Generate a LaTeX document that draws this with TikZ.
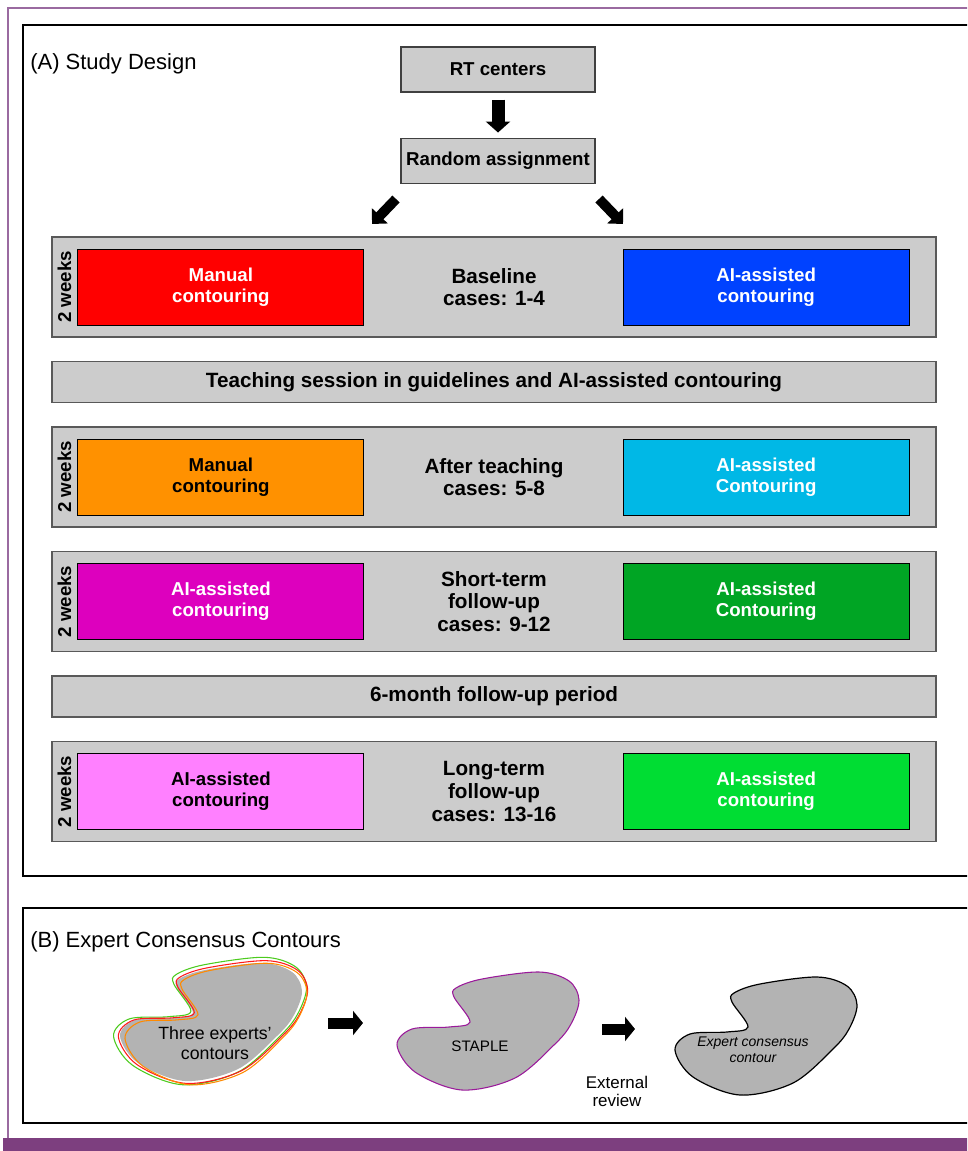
\documentclass[tikz,border=0pt]{standalone}
\usepackage{fontspec}
\setmainfont{Liberation Sans}
\usetikzlibrary{arrows.meta, positioning, calc}
\newlength{\pxu}
\setlength{\pxu}{0.75pt}
\definecolor{boxgray}{HTML}{CCCCCC}
\definecolor{blobgray}{HTML}{B3B3B3}
\definecolor{framepurple}{HTML}{9A6AA0}
\definecolor{barpurple}{HTML}{7D3F7F}
\definecolor{armred}{HTML}{FF0000}
\definecolor{armblue}{HTML}{0042FF}
\definecolor{armorange}{HTML}{FF9100}
\definecolor{armcyan}{HTML}{00B8E6}
\definecolor{armmagenta}{HTML}{DD00BE}
\definecolor{armdkgreen}{HTML}{00A524}
\definecolor{armpink}{HTML}{FF80FF}
\definecolor{armgreen}{HTML}{00DD33}
\definecolor{expred}{HTML}{FF1A1A}
\definecolor{exporange}{HTML}{FF8A00}
\definecolor{expgreen}{HTML}{4CCB1E}
\definecolor{staplepurple}{HTML}{9A1A9A}
\tikzset{
  panel/.style     = {draw=black, line width=1.5pt},
  paneltl/.style   = {font=\fontsize{16.5}{19}\selectfont, inner sep=0pt},
  topbox/.style    = {font=\bfseries\fontsize{14}{16}\selectfont, align=center,
                      draw=black!75, fill=boxgray, line width=0.8pt,
                      minimum width=194\pxu, minimum height=45\pxu, inner sep=2pt},
  phasebox/.style  = {font=\bfseries\fontsize{15.5}{17}\selectfont, align=center,
                      draw=black!65, fill=boxgray, line width=0.9pt,
                      minimum width=884\pxu, minimum height=100\pxu, inner sep=2pt},
  barbox/.style    = {phasebox, minimum height=41\pxu},
  armbox/.style    = {font=\bfseries\fontsize{14}{15.75}\selectfont, align=center,
                      draw=black, line width=0.7pt, text=white,
                      minimum width=286\pxu, minimum height=76\pxu, inner sep=2pt},
  weekslbl/.style  = {font=\bfseries\fontsize{14}{16}\selectfont, rotate=90,
                      inner sep=0pt},
  downarr/.style   = {draw=black, line width=9.75pt,
                      -{Triangle[length=8.25pt, width=18pt]}},
  diagarr/.style   = {draw=black, line width=7.5pt,
                      -{Triangle[length=8.5pt, width=16pt]}},
  sidearr/.style   = {draw=black, line width=8.25pt,
                      -{Triangle[length=7.5pt, width=18pt]}},
  blobtxt/.style   = {font=\fontsize{13.3}{15}\selectfont, align=center, inner sep=0pt},
  blob/.pic        = {\path[pic actions] plot[smooth cycle, tension=0.55] coordinates
                      {(-32,-43) (-6,-52) (51,-59) (81,-50) (91,-31) (83,-7) (67,13)
                       (27,47) (-26,59) (-73,41) (-91,14) (-76,-2) (-39,-4) (-18,-9)
                       (-34,-34)};},
}
\begin{document}
\begin{tikzpicture}[x=0.75pt, y=-0.75pt]
  \useasboundingbox (0,0) rectangle (967,1151);
  \clip (0,0) rectangle (967,1151);

  % page frame
  \draw[framepurple, line width=1.1pt] (8,1139) -- (8,8) -- (990,8);
  \fill[barpurple] (3,1138) rectangle (990,1160);
  \draw[panel] (23,25) rectangle (1000,876);
  \draw[panel] (23,908) rectangle (1000,1123);

  % (A) study design
  \node[paneltl, anchor=base west] (ttla) at (30,70) {(A) Study Design};
  \node[topbox] (rtc) at (498,69.5) {RT centers};
  \node[topbox, below=45\pxu of rtc] (rnd) {Random assignment};
  \draw[downarr, shorten <=5.25pt, shorten >=3.75pt] (rtc) -- (rnd);
  \coordinate (dl0) at (396,199);
  \coordinate (dl1) at (372,224);
  \coordinate (dr0) at (599,199);
  \coordinate (dr1) at (623,224);
  \draw[diagarr] (dl0) -- (dl1);
  \draw[diagarr] (dr0) -- (dr1);

  \node[phasebox] (ph1) at (494,287) {Baseline\\cases: 1-4};
  \node[armbox, fill=armred, right=26\pxu of ph1.west] (ph1l) {Manual\\contouring};
  \node[armbox, fill=armblue, left=27\pxu of ph1.east] (ph1r) {AI-assisted\\contouring};
  \node[weekslbl] at ($(ph1.west)+(13,0)$) {2 weeks};

  \node[barbox, below=23.3\pxu of ph1] (teach)
       {Teaching session in guidelines and AI-assisted contouring};

  \node[phasebox, below=23.3\pxu of teach] (ph2) {After teaching\\cases: 5-8};
  \node[armbox, fill=armorange, text=black, right=26\pxu of ph2.west] (ph2l) {Manual\\contouring};
  \node[armbox, fill=armcyan, left=27\pxu of ph2.east] (ph2r) {AI-assisted\\Contouring};
  \node[weekslbl] at ($(ph2.west)+(13,0)$) {2 weeks};

  \node[phasebox, below=23.3\pxu of ph2] (ph3) {Short-term\\follow-up\\cases: 9-12};
  \node[armbox, fill=armmagenta, right=26\pxu of ph3.west] (ph3l) {AI-assisted\\contouring};
  \node[armbox, fill=armdkgreen, left=27\pxu of ph3.east] (ph3r) {AI-assisted\\Contouring};
  \node[weekslbl] at ($(ph3.west)+(13,0)$) {2 weeks};

  \node[barbox, below=23.3\pxu of ph3] (fup) {6-month follow-up period};

  \node[phasebox, below=23.3\pxu of fup] (ph4) {Long-term\\follow-up\\cases: 13-16};
  \node[armbox, fill=armpink, text=black, right=26\pxu of ph4.west] (ph4l) {AI-assisted\\contouring};
  \node[armbox, fill=armgreen, left=27\pxu of ph4.east] (ph4r) {AI-assisted\\contouring};
  \node[weekslbl] at ($(ph4.west)+(13,0)$) {2 weeks};

  % (B) expert consensus contours
  \node[paneltl, anchor=base west] (ttlb) at (30,947) {(B) Expert Consensus Contours};

  \pic[fill=blobgray] at (211,1022) {blob};
  \pic[draw=expgreen, line width=0.8pt, xscale=1.06, yscale=1.08] at (210,1021) {blob};
  \pic[draw=expred, line width=0.8pt, xscale=1.04, yscale=1.04] at (213,1022) {blob};
  \pic[draw=exporange, line width=0.8pt, xscale=1.0, yscale=1.03] at (216,1024) {blob};
  \node[blobtxt] (txt1) at (215,1043) {Three experts’\\contours};

  \pic[fill=blobgray, draw=staplepurple, line width=0.8pt] at (488,1031) {blob};
  \node[blobtxt, font=\fontsize{11.4}{13}\selectfont] (txt2) at (480,1046) {STAPLE};

  \pic[fill=blobgray, draw=black, line width=0.9pt] at (766,1036) {blob};
  \node[blobtxt, font=\itshape\fontsize{10.5}{12}\selectfont] (txt4) at (753,1050)
       {Expert consensus\\contour};

  \coordinate (s1a) at (328,1023);
  \coordinate (s1b) at (363,1023);
  \coordinate (s2a) at (602,1029);
  \coordinate (s2b) at (635,1029);
  \draw[sidearr] (s1a) -- (s1b);
  \draw[sidearr] (s2a) -- (s2b);
  \node[blobtxt, font=\fontsize{12.7}{13.5}\selectfont] (txt3) at (617,1091) {External\\review};
\end{tikzpicture}
\end{document}
